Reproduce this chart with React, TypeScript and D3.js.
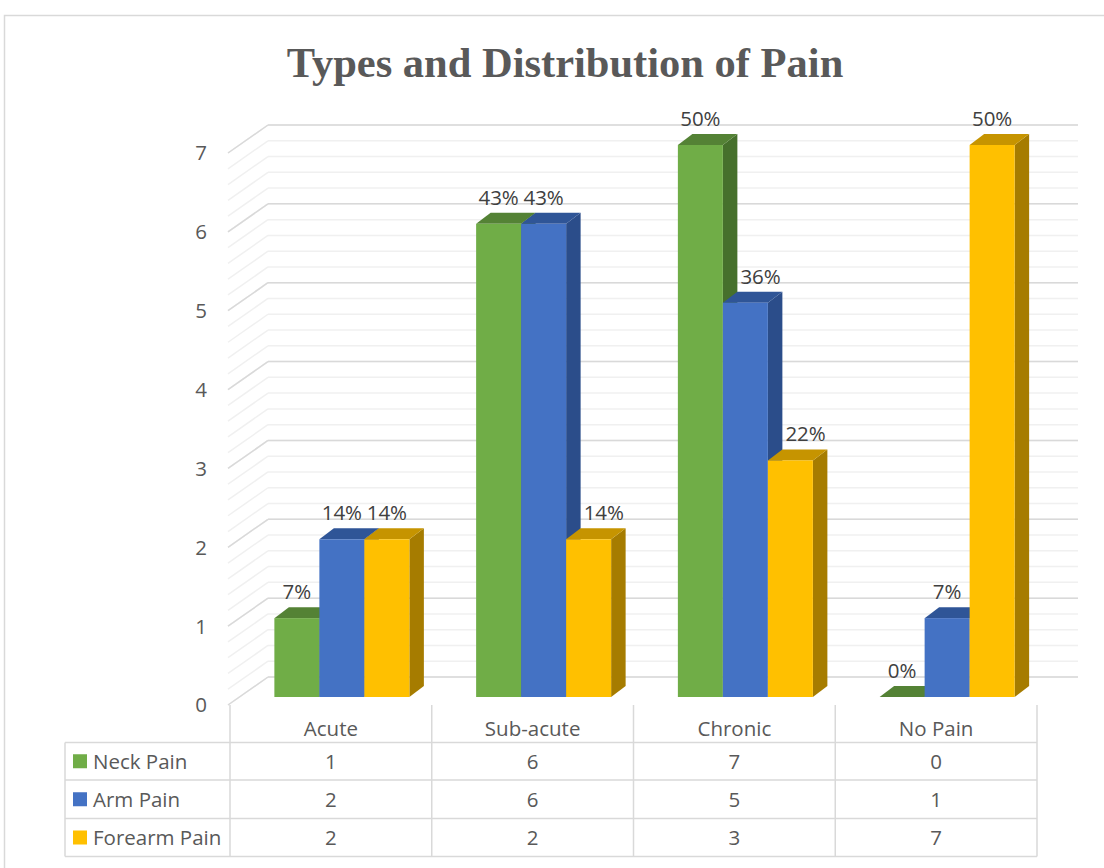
import React from "react";
import * as d3 from "d3";

// ---- data ----
const categories = ["Acute", "Sub-acute", "Chronic", "No Pain"];
const seriesNames = ["Neck Pain", "Arm Pain", "Forearm Pain"];
const neckPain = [1, 6, 7, 0];
const armPain = [2, 6, 5, 1];
const forearmPain = [2, 2, 3, 7];
const neckPct = ["7%", "43%", "50%", "0%"];
const armPct = ["14%", "43%", "36%", "7%"];
const forearmPct = ["14%", "14%", "22%", "50%"];
const yTicks = [0, 1, 2, 3, 4, 5, 6, 7];

const seriesValues = [neckPain, armPain, forearmPain];
const seriesPct = [neckPct, armPct, forearmPct];

// front / top / side shades for each series
const palette = [
  { front: "#70AD47", top: "#548235", side: "#46702C" },
  { front: "#4472C4", top: "#2F5597", side: "#2B4D8A" },
  { front: "#FFC000", top: "#C69400", side: "#A67C00" },
];

const W = 1104;
const H = 868;
const textColor = "#595959";
const labelColor = "#404040";
const font = "'Open Sans', 'Liberation Sans', sans-serif";
const fs = 20.5;

// plot geometry
const tableLeft = 65;
const colLeft = 230;
const colRight = 1037;
const wallFrontX = 228;
const wallBackX = 268;
const wallRight = 1078;
const wallDepthY = 28; // vertical shift from front edge to back wall
const barFrontOffset = 8; // bar front face sits 8px above wall front edge
const barDx = 14.5;
const barDy = 11;
const groupWidth = 135;
const groupShift = 11;

export default function App() {
  // y scale at the front edge of the side wall
  const yFront = d3.scaleLinear().domain([0, 7]).range([705, 153]);
  const yBack = (v: number) => yFront(v) - wallDepthY;
  const yBar = (v: number) => yFront(v) - barFrontOffset;

  const x = d3.scaleBand<string>().domain(categories).range([colLeft, colRight]).padding(0);
  const xInner = d3
    .scaleBand<number>()
    .domain(d3.range(seriesNames.length))
    .range([0, groupWidth])
    .padding(0);

  const minorTicks = d3.range(0, 7.0001, 0.2);

  const rowTops = [742.5, 780, 818.5];
  const rowBottom = 856.5;
  const headerTop = 705;

  const groupX = (cat: string) =>
    (x(cat) as number) + x.bandwidth() / 2 + groupShift - groupWidth / 2;

  const bars: React.ReactNode[] = [];
  categories.forEach((cat, ci) => {
    const gx = groupX(cat);
    seriesValues.forEach((vals, si) => {
      const v = vals[ci];
      const x0 = gx + (xInner(si) as number);
      const x1 = x0 + xInner.bandwidth();
      const yb = yBar(0);
      const yt = yBar(v);
      const c = palette[si];
      const side = `M${x1},${yb} L${x1 + barDx},${yb - barDy} L${x1 + barDx},${yt - barDy} L${x1},${yt} Z`;
      const top = `M${x0},${yt} L${x0 + barDx},${yt - barDy} L${x1 + barDx},${yt - barDy} L${x1},${yt} Z`;
      bars.push(
        <g key={`${ci}-${si}`}>
          {v > 0 && <path d={side} fill={c.side} />}
          <path d={top} fill={c.top} />
          {v > 0 && <rect x={x0} y={yt} width={x1 - x0} height={yb - yt} fill={c.front} />}
        </g>
      );
    });
  });

  // value labels: centred over the front face, or nudged right of the
  // neighbouring bar's side face when that neighbour is taller
  const labels: React.ReactNode[] = [];
  categories.forEach((cat, ci) => {
    const gx = groupX(cat);
    seriesValues.forEach((vals, si) => {
      const v = vals[ci];
      const x0 = gx + (xInner(si) as number);
      const prevTaller = si > 0 && seriesValues[si - 1][ci] > v;
      const lx = prevTaller ? x0 + barDx + 3 : x0 + xInner.bandwidth() / 2;
      labels.push(
        <text
          key={`l-${ci}-${si}`}
          x={lx}
          y={yBar(v) - 19}
          textAnchor={prevTaller ? "start" : "middle"}
          fontFamily={font}
          fontSize={fs}
          fill={labelColor}
        >
          {seriesPct[si][ci]}
        </text>
      );
    });
  });

  return (
    <svg
      width={W}
      height={H}
      viewBox={`0 0 ${W} ${H}`}
      style={{ position: "absolute", left: 0, top: 0, display: "block", background: "#fff" }}
    >
      <rect x={4.5} y={15.5} width={W + 20} height={H + 20} fill="#fff" stroke="#d9d9d9" strokeWidth={1.5} />

      <text
        x={565}
        y={77}
        textAnchor="middle"
        fontFamily="'Liberation Serif', 'Times New Roman', serif"
        fontWeight="bold"
        fontSize={42.5}
        fill={textColor}
      >
        Types and Distribution of Pain
      </text>

      {/* minor grid: back wall + side wall */}
      {minorTicks.map((t, i) => (
        <g key={`g-${i}`} stroke="#f0f0f0" strokeWidth={1.5} fill="none">
          <line x1={wallFrontX} y1={yFront(t)} x2={wallBackX} y2={yBack(t)} />
          <line x1={wallBackX} y1={yBack(t)} x2={wallRight} y2={yBack(t)} />
        </g>
      ))}
      {/* major grid on top of the minor lines */}
      {yTicks.map((t) => (
        <g key={`gm-${t}`} stroke="#d9d9d9" strokeWidth={1.5} fill="none">
          <line x1={wallFrontX} y1={yFront(t)} x2={wallBackX} y2={yBack(t)} />
          <line x1={wallBackX} y1={yBack(t)} x2={wallRight} y2={yBack(t)} />
        </g>
      ))}

      {/* y axis labels */}
      {yTicks.map((t) => (
        <text
          key={`yt-${t}`}
          x={207}
          y={yFront(t)}
          dy="0.36em"
          textAnchor="end"
          fontFamily={font}
          fontSize={fs}
          fill={textColor}
        >
          {t}
        </text>
      ))}

      {bars}
      {labels}

      {/* data table */}
      <g stroke="#d9d9d9" strokeWidth={1.5} fill="none">
        {rowTops.map((y, i) => (
          <line key={`h-${i}`} x1={tableLeft} y1={y} x2={colRight} y2={y} />
        ))}
        <line x1={tableLeft} y1={rowBottom} x2={colRight} y2={rowBottom} />
        <line x1={tableLeft} y1={rowTops[0]} x2={tableLeft} y2={rowBottom} />
        {categories.map((c) => (
          <line key={`v-${c}`} x1={x(c) as number} y1={headerTop} x2={x(c) as number} y2={rowBottom} />
        ))}
        <line x1={colRight} y1={headerTop} x2={colRight} y2={rowBottom} />
      </g>

      {categories.map((c) => (
        <text
          key={`hc-${c}`}
          x={(x(c) as number) + x.bandwidth() / 2}
          y={728.5}
          dy="0.36em"
          textAnchor="middle"
          fontFamily={font}
          fontSize={fs}
          fill={textColor}
        >
          {c}
        </text>
      ))}

      {seriesNames.map((name, si) => {
        const yTop = rowTops[si];
        const yBot = si < rowTops.length - 1 ? rowTops[si + 1] : rowBottom;
        const cy = (yTop + yBot) / 2;
        return (
          <g key={`row-${si}`}>
            <rect x={73} y={cy - 7} width={14} height={14} fill={palette[si].front} />
            <text x={93} y={cy} dy="0.36em" fontFamily={font} fontSize={fs} fill={textColor}>
              {name}
            </text>
            {categories.map((c, ci) => (
              <text
                key={`cell-${si}-${ci}`}
                x={(x(c) as number) + x.bandwidth() / 2}
                y={cy}
                dy="0.36em"
                textAnchor="middle"
                fontFamily={font}
                fontSize={fs}
                fill={textColor}
              >
                {seriesValues[si][ci]}
              </text>
            ))}
          </g>
        );
      })}
    </svg>
  );
}
